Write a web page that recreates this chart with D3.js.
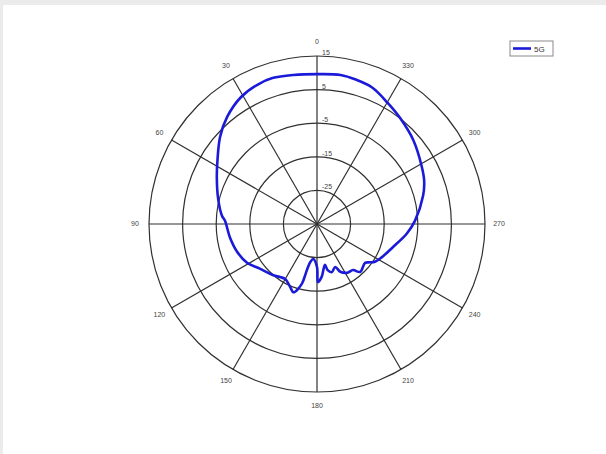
<!DOCTYPE html>
<html>
<head>
<meta charset="utf-8">
<script src="https://cdn.jsdelivr.net/npm/d3@7"></script>
<style>
  html, body { margin: 0; padding: 0; background: #ebebeb; }
  svg { display: block; }
  text { font-family: "Liberation Sans", Arial, sans-serif; }
</style>
</head>
<body>
<script>
// Radiation pattern, 5G antenna: azimuth angle (degrees, counter-clockwise from top) and gain (dB)
const angles = [0, 9, 17, 23, 31, 40, 48, 57, 65, 76, 85, 88, 99, 109, 119, 128, 139, 150, 154, 157,
  161, 164, 166, 167, 168, 170, 174, 180, 181, 185, 191, 193, 197, 203, 206, 212, 218, 222, 231, 234,
  237, 243, 253, 264, 272, 285, 292, 299, 311, 322, 330, 338, 345, 351];
const gain = [9.6, 9.9, 10.4, 10.1, 9.0, 6.6, 3.8, 0.3, -2.1, -4.7, -6.6, -7.6, -8.8, -9.8, -11.2, -13.4, -14.9, -16.1, -15.4, -14.6,
  -13.5, -15.1, -16.9, -19.4, -21.6, -23.5, -24.5, -22.2, -17.7, -19.2, -22.6, -20.9, -20.0, -21.1, -19.2, -17.9, -17.6, -15.8, -16.6, -15.6,
  -14.4, -13.3, -11.4, -8.1, -5.8, -2.3, -0.6, 0.6, 3.0, 5.1, 6.8, 8.8, 9.5, 9.9];
const seriesName = "5G";

// Axis definitions
const ringTicks = [-25, -15, -5, 5, 15];
const ringLabels = ["-25", "-15", "-5", "5", "15"];
const spokeAngles = [0, 30, 60, 90, 120, 150, 180, 210, 240, 270, 300, 330];
const spokeLabels = ["0", "30", "60", "90", "120", "150", "180", "210", "240", "270", "300", "330"];
const rMin = -35, rMax = 15;

const W = 606, H = 454;
const cx = 317, cy = 224, R = 168;

const svg = d3.select("body").append("svg").attr("width", W).attr("height", H);

// white figure panel
svg.append("rect").attr("x", 3).attr("y", 5).attr("width", W - 3).attr("height", H - 5).attr("fill", "#fff");

const r = d3.scaleLinear().domain([rMin, rMax]).range([0, R]);
// counter-clockwise angle from top, in radians for d3 (clockwise from 12 o'clock)
const ang = d3.scaleLinear().domain([0, 360]).range([0, -2 * Math.PI]);

const g = svg.append("g").attr("transform", `translate(${cx},${cy})`);

// rings
g.selectAll("circle.ring").data(ringTicks).join("circle")
  .attr("class", "ring")
  .attr("r", d => r(d))
  .attr("fill", "none")
  .attr("stroke", "#303030")
  .attr("stroke-width", 1.2);

// spokes
g.selectAll("line.spoke").data(spokeAngles).join("line")
  .attr("class", "spoke")
  .attr("x1", 0).attr("y1", 0)
  .attr("x2", d => R * Math.sin(ang(d)))
  .attr("y2", d => -R * Math.cos(ang(d)))
  .attr("stroke", "#303030")
  .attr("stroke-width", 1.2);

// ring labels
g.selectAll("text.rl").data(ringTicks).join("text")
  .attr("class", "rl")
  .attr("x", 5)
  .attr("y", d => -r(d) - 1)
  .attr("font-size", 7)
  .attr("fill", "#444")
  .text((d, i) => ringLabels[i]);

// angle labels
const labR = 182;
g.selectAll("text.al").data(spokeAngles).join("text")
  .attr("class", "al")
  .attr("x", d => labR * Math.sin(ang(d)))
  .attr("y", d => -labR * Math.cos(ang(d)))
  .attr("text-anchor", "middle")
  .attr("dominant-baseline", "middle")
  .attr("font-size", 7)
  .attr("fill", "#444")
  .text((d, i) => spokeLabels[i]);

// pattern trace
const pts = angles.map((a, i) => [a, gain[i]]);
const line = d3.lineRadial()
  .angle(d => ang(d[0]))
  .radius(d => r(d[1]))
  .curve(d3.curveCatmullRomClosed.alpha(0.5));

g.append("path")
  .datum(pts)
  .attr("d", line)
  .attr("fill", "none")
  .attr("stroke", "#1a1ad8")
  .attr("stroke-width", 2.6)
  .attr("stroke-linejoin", "round");

// legend
const lg = svg.append("g").attr("transform", "translate(510,41)");
lg.append("rect").attr("width", 43).attr("height", 15)
  .attr("fill", "#fff").attr("stroke", "#8a8a8a").attr("stroke-width", 1);
lg.append("line").attr("x1", 3).attr("x2", 21).attr("y1", 7.5).attr("y2", 7.5)
  .attr("stroke", "#1a1ad8").attr("stroke-width", 2.6);
lg.append("text").attr("x", 24).attr("y", 11).attr("font-size", 8).attr("fill", "#333").text(seriesName);
</script>
</body>
</html>
